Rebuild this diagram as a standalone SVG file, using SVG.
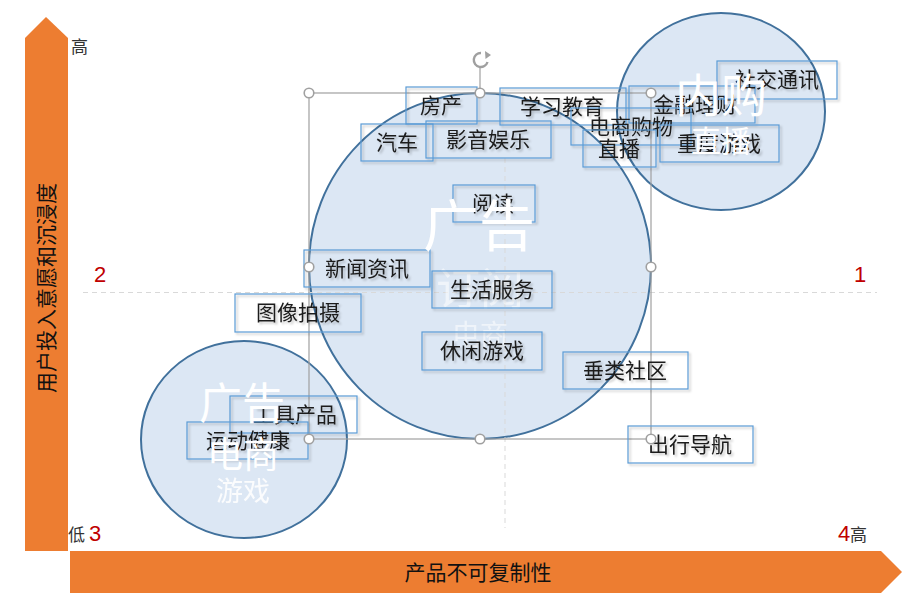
<svg xmlns="http://www.w3.org/2000/svg" width="920" height="616" viewBox="0 0 920 616">
<style>
.zh{font-family:"Noto Sans CJK SC","Noto Sans",sans-serif;}
.box rect{fill:none;stroke:#5B9BD5;stroke-width:1.2;}
.box text{font-family:"Noto Sans CJK SC",sans-serif;font-size:21px;fill:#1a1a1a;text-anchor:middle;}
.circ{fill:#DCE7F4;stroke:#41719C;stroke-width:2;}
.wl{font-family:"Noto Sans CJK SC",sans-serif;fill:#fff;text-anchor:middle;}
.num{font-family:"Liberation Sans",sans-serif;font-size:22px;fill:#C00000;}
.ax{font-family:"Noto Sans CJK SC",sans-serif;font-size:17px;fill:#333;}
.dash{stroke:#D9D9D9;stroke-width:1;stroke-dasharray:5,4;fill:none;}
.sel{stroke:#A0A0A0;stroke-width:1.2;fill:none;}
.hd{fill:#fff;stroke:#A0A0A0;stroke-width:1.6;}
</style>
<defs>
<filter id="sh" x="-10%" y="-20%" width="130%" height="160%">
<feDropShadow dx="2" dy="2" stdDeviation="1.3" flood-color="#000" flood-opacity="0.22"/>
</filter>
</defs>
<rect width="920" height="616" fill="#fff"/>

<!-- axes -->
<g id="axis-y">
<polygon points="25,38 46,17 68,38 68,551 25,551" fill="#ED7D31"/>
<text class="zh" font-size="21" fill="#111" text-anchor="middle" transform="translate(46,288) rotate(-90)" y="8">用户投入意愿和沉浸度</text>
</g>
<g id="axis-x">
<polygon points="70,551 881,551 902,572 881,593 70,593" fill="#ED7D31"/>
<text class="zh" font-size="21" fill="#111" text-anchor="middle" x="478" y="580">产品不可复制性</text>
</g>
<text class="ax" x="71" y="53">高</text>
<text class="ax" x="68" y="541">低</text>
<text class="num" x="89" y="541">3</text>
<text class="num" x="838" y="541">4</text>
<text class="ax" x="850" y="541">高</text>
<text class="num" x="94" y="282">2</text>
<text class="num" x="854" y="282">1</text>

<!-- circles -->
<g id="circle-main"><ellipse class="circ" cx="480" cy="266" rx="171" ry="173"/></g>
<g id="circle-topright"><ellipse class="circ" cx="721" cy="111.5" rx="104" ry="98.5"/></g>
<g id="circle-bottomleft"><ellipse class="circ" cx="244" cy="439.5" rx="103" ry="98.5"/></g>

<g id="connectors">
<line class="dash" x1="83" y1="292.5" x2="877" y2="292.5"/>
<line class="dash" x1="505" y1="158" x2="505" y2="528"/>
</g>

<text class="wl" x="480" y="305" font-size="44" opacity="0.55">订阅</text>
<text class="wl" x="480" y="345" font-size="28" opacity="0.55">电商</text>

<!-- selection frame -->
<g id="selection">
<rect class="sel" x="309" y="93" width="342" height="346"/>
<line class="sel" x1="480" y1="67" x2="480" y2="93"/>
<path d="M481,53 A7,7 0 1 0 487.5,62" fill="none" stroke="#A0A0A0" stroke-width="2.4"/>
<path d="M485,51 L491,55 L485.5,59 Z" fill="#A0A0A0"/>
</g>

<!-- label nodes -->
<g filter="url(#sh)">
<g id="n-fangchan" class="box"><rect x="406" y="87" width="71" height="37"/><text x="441" y="113">房产</text></g>
<g id="n-qiche" class="box"><rect x="361" y="124" width="72" height="37"/><text x="397" y="150">汽车</text></g>
<g id="n-yingyin" class="box"><rect x="426" y="121" width="125" height="37"/><text x="488" y="147">影音娱乐</text></g>
<g id="n-xuexi" class="box"><rect x="500" y="88" width="126" height="37"/><text x="562" y="114">学习教育</text></g>
<g id="n-jinrong" class="box"><rect x="629" y="86" width="126" height="37"/><text x="695" y="112">金融理财</text></g>
<g id="n-dianshang" class="box"><rect x="571" y="108" width="120" height="37"/><text x="631" y="134">电商购物</text></g>
<g id="n-zhibo" class="box"><rect x="583" y="130" width="73" height="37"/><text x="619" y="156">直播</text></g>
<g id="n-zhongdu" class="box"><rect x="660" y="125" width="119" height="37"/><text x="719" y="151">重度游戏</text></g>
<g id="n-shejiao" class="box"><rect x="717" y="61" width="120" height="38"/><text x="777" y="87">社交通讯</text></g>
<g id="n-yuedu" class="box"><rect x="453" y="185" width="82" height="37"/><text x="493" y="211">阅读</text></g>
<g id="n-xinwen" class="box"><rect x="304" y="250" width="126" height="37"/><text x="367" y="276">新闻资讯</text></g>
<g id="n-shenghuo" class="box"><rect x="432" y="271" width="120" height="37"/><text x="492" y="297">生活服务</text></g>
<g id="n-tuxiang" class="box"><rect x="235" y="294" width="126" height="38"/><text x="298" y="320">图像拍摄</text></g>
<g id="n-xiuxian" class="box"><rect x="422" y="332" width="120" height="38"/><text x="482" y="358">休闲游戏</text></g>
<g id="n-chuilei" class="box"><rect x="563" y="352" width="125" height="37"/><text x="625" y="378">垂类社区</text></g>
<g id="n-gongju" class="box"><rect x="230" y="396" width="127" height="37"/><text x="295" y="422">工具产品</text></g>
<g id="n-yundong" class="box"><rect x="187" y="422" width="121" height="37"/><text x="248" y="448">运动健康</text></g>
<g id="n-chuxing" class="box"><rect x="628" y="426" width="125" height="37"/><text x="690" y="452">出行导航</text></g>
</g>

<!-- handles -->
<g id="handles">
<circle class="hd" cx="309" cy="93" r="4.8"/>
<circle class="hd" cx="480" cy="93" r="4.8"/>
<circle class="hd" cx="651" cy="93" r="4.8"/>
<circle class="hd" cx="309" cy="267" r="4.8"/>
<circle class="hd" cx="651" cy="267" r="4.8"/>
<circle class="hd" cx="309" cy="439" r="4.8"/>
<circle class="hd" cx="480" cy="439" r="4.8"/>
<circle class="hd" cx="651" cy="439" r="4.8"/>
</g>

<!-- white circle labels -->
<text class="wl" x="479" y="246" font-size="56">广告</text>
<text class="wl" x="721" y="112" font-size="46">内购</text>
<text class="wl" x="721" y="152" font-size="30">直播</text>
<text class="wl" x="242" y="419" font-size="43">广告</text>
<text class="wl" x="243" y="468" font-size="36">电商</text>
<text class="wl" x="243" y="501" font-size="27" opacity="0.9">游戏</text>
</svg>
